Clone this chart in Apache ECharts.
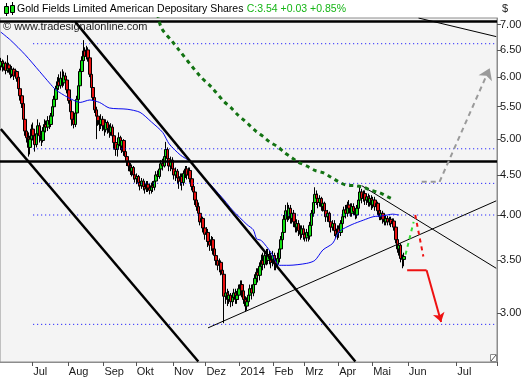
<!DOCTYPE html>
<html><head><meta charset="utf-8">
<script src="https://cdn.jsdelivr.net/npm/echarts@6/dist/echarts.min.js"></script>
<style>html,body{margin:0;padding:0;background:#fff}#c{width:532px;height:380px}</style>
</head><body><div id="c"></div>
<script>
// ---------- header text ----------
const titleText = 'Gold Fields Limited American Depositary Shares';
const quoteText = 'C:3.54 +0.03 +0.85%';
const copyrightText = '\u00a9 www.tradesignalonline.com';
const currencyText = '$';

// ---------- time axis ----------
const firstDate = '2013-06-03';
const lastCandleDate = '2014-05-29';
const lastAxisDate = '2014-07-25';
const holidays = ['2013-07-04','2013-09-02','2013-11-28','2013-12-25','2014-01-01','2014-01-20','2014-02-17','2014-04-18','2014-05-26'];
const monthLabels = ['YEAR','Feb','Mrz','Apr','Mai','Jun','Jul','Aug','Sep','Okt','Nov','Dez'];

// ---------- price axis ----------
const yMin = 2.596, yMax = 7.140;
const yTicks = [3.00, 3.50, 4.00, 4.50, 5.00, 5.50, 6.00, 6.50, 7.00];

// ---------- daily candles [open, close, low, high] ----------
const candles = [
// Jun 2013
[6.20,6.28,6.12,6.35],[6.28,6.18,6.10,6.32],[6.18,6.25,6.12,6.30],[6.25,6.12,6.05,6.28],[6.12,6.22,6.08,6.40],
[6.22,6.15,6.08,6.26],[6.15,6.05,5.98,6.18],[6.05,6.14,6.00,6.20],[6.14,6.02,5.95,6.17],[6.02,6.10,5.98,6.15],
[6.10,5.98,5.92,6.12],[6.00,5.80,5.75,6.05],[5.80,5.68,5.60,5.85],[5.68,5.55,5.48,5.72],[5.55,5.30,5.25,5.58],
[5.30,5.12,5.05,5.35],[5.12,5.02,4.95,5.18],[5.02,4.88,4.75,5.10],[4.88,5.00,4.78,5.05],[5.00,5.15,4.95,5.22],
// Jul
[5.15,5.05,4.98,5.25],[5.05,4.92,4.82,5.10],[4.92,5.08,4.88,5.15],[5.08,5.20,5.02,5.30],[5.20,5.05,4.95,5.25],
[5.05,4.98,4.90,5.12],[4.98,5.12,4.95,5.18],[5.12,5.22,5.05,5.30],[5.22,5.18,5.10,5.28],[5.18,5.28,5.12,5.35],
[5.28,5.22,5.15,5.36],[5.22,5.35,5.18,5.40],[5.35,5.50,5.30,5.55],[5.50,5.62,5.45,5.68],[5.62,5.80,5.58,5.85],
[5.80,5.92,5.72,6.00],[5.92,5.85,5.78,6.05],[5.85,5.98,5.80,6.10],[5.98,5.90,5.82,6.14],[5.90,6.02,5.85,6.10],
[6.02,5.95,5.85,6.08],[5.95,5.78,5.72,6.00],
// Aug
[5.78,5.60,5.55,5.82],[5.60,5.42,5.38,5.65],[5.42,5.30,5.20,5.48],[5.30,5.22,5.16,5.38],[5.22,5.40,5.18,5.45],
[5.40,5.62,5.35,5.68],[5.62,5.85,5.58,5.90],[5.85,6.10,5.80,6.15],[6.10,6.30,6.05,6.38],[6.30,6.48,6.25,6.69],
[6.48,6.38,6.30,6.55],[6.38,6.50,6.32,6.58],[6.50,6.35,6.28,6.55],[6.35,6.05,6.00,6.40],[6.05,5.82,5.75,6.10],
[5.82,5.65,5.60,5.88],[5.65,5.45,5.40,5.70],[5.45,5.35,5.00,5.50],[5.35,5.28,5.20,5.42],[5.28,5.22,5.12,5.35],
[5.22,5.30,5.15,5.38],[5.30,5.20,5.12,5.35],
// Sep
[5.20,5.14,5.05,5.28],[5.14,5.25,5.10,5.30],[5.25,5.16,5.08,5.28],[5.16,5.10,5.02,5.22],[5.10,5.18,5.05,5.24],
[5.18,5.05,4.98,5.22],[5.05,4.95,4.85,5.10],[4.95,4.85,4.76,5.00],[4.85,4.92,4.75,4.98],[4.92,5.02,4.88,5.10],
[5.02,4.90,4.84,5.05],[4.90,4.98,4.80,5.02],[4.98,4.82,4.76,5.00],[4.82,4.75,4.68,4.88],[4.75,4.68,4.62,4.80],
[4.68,4.62,4.55,4.72],[4.62,4.55,4.50,4.66],[4.55,4.60,4.48,4.64],[4.60,4.50,4.44,4.62],[4.50,4.45,4.40,4.55],
// Oct
[4.45,4.48,4.38,4.52],[4.48,4.40,4.35,4.50],[4.40,4.36,4.30,4.45],[4.36,4.42,4.32,4.46],[4.42,4.35,4.30,4.45],
[4.35,4.32,4.26,4.40],[4.32,4.38,4.28,4.42],[4.38,4.33,4.28,4.42],[4.33,4.30,4.25,4.38],[4.30,4.36,4.26,4.40],
[4.36,4.34,4.28,4.42],[4.34,4.42,4.30,4.46],[4.42,4.50,4.38,4.55],[4.50,4.48,4.42,4.56],[4.48,4.58,4.45,4.62],
[4.58,4.65,4.52,4.70],[4.65,4.62,4.56,4.72],[4.62,4.75,4.60,4.80],[4.75,4.85,4.70,4.96],[4.85,4.72,4.66,4.88],
[4.72,4.62,4.55,4.78],[4.62,4.70,4.55,4.75],[4.70,4.58,4.52,4.74],
// Nov
[4.58,4.50,4.44,4.62],[4.50,4.55,4.42,4.60],[4.55,4.46,4.38,4.58],[4.46,4.42,4.32,4.50],[4.42,4.48,4.36,4.52],
[4.48,4.40,4.30,4.52],[4.40,4.52,4.36,4.56],[4.52,4.58,4.46,4.62],[4.58,4.50,4.44,4.62],[4.50,4.56,4.45,4.60],
[4.56,4.45,4.40,4.60],[4.45,4.35,4.30,4.50],[4.35,4.28,4.22,4.40],[4.28,4.18,4.12,4.32],[4.18,4.10,4.05,4.22],
[4.10,4.02,3.96,4.15],[4.02,3.92,3.88,4.06],[3.92,3.96,3.85,4.00],[3.96,3.85,3.80,3.98],[3.85,3.78,3.72,3.90],
// Dec
[3.78,3.80,3.70,3.86],[3.80,3.70,3.64,3.84],[3.70,3.66,3.60,3.76],[3.66,3.72,3.60,3.76],[3.72,3.62,3.56,3.75],
[3.62,3.55,3.50,3.66],[3.55,3.50,3.45,3.60],[3.50,3.45,3.40,3.54],[3.45,3.48,3.38,3.52],[3.48,3.40,3.35,3.50],
[3.40,3.36,3.30,3.44],[3.36,3.15,2.91,3.38],[3.15,3.18,3.08,3.22],[3.18,3.12,3.06,3.22],[3.12,3.16,3.08,3.20],
[3.16,3.10,3.05,3.18],[3.10,3.14,3.06,3.18],[3.14,3.18,3.10,3.22],[3.18,3.12,3.08,3.22],[3.12,3.16,3.08,3.20],
[3.16,3.22,3.12,3.26],
// Jan 2014
[3.22,3.26,3.16,3.30],[3.26,3.20,3.14,3.30],[3.20,3.12,3.08,3.24],[3.12,3.06,3.01,3.15],[3.06,3.10,3.02,3.14],
[3.10,3.16,3.06,3.20],[3.16,3.22,3.12,3.26],[3.22,3.18,3.12,3.26],[3.18,3.26,3.15,3.30],[3.26,3.32,3.22,3.36],
[3.32,3.38,3.28,3.42],[3.38,3.35,3.28,3.42],[3.35,3.44,3.30,3.48],[3.44,3.50,3.40,3.56],[3.50,3.46,3.40,3.58],
[3.46,3.55,3.42,3.60],[3.55,3.50,3.45,3.62],[3.50,3.56,3.46,3.62],[3.56,3.52,3.46,3.60],[3.52,3.48,3.42,3.58],
[3.48,3.55,3.44,3.60],
// Feb
[3.55,3.50,3.40,3.58],[3.50,3.46,3.40,3.55],[3.46,3.52,3.42,3.58],[3.52,3.62,3.48,3.66],[3.62,3.72,3.58,3.76],
[3.72,3.80,3.68,3.85],[3.80,3.95,3.76,4.00],[3.95,4.05,3.90,4.12],[4.05,3.98,3.92,4.15],[3.98,4.08,3.94,4.12],
[4.08,3.96,3.90,4.12],[3.96,4.02,3.90,4.06],[4.02,3.92,3.86,4.06],[3.92,3.86,3.80,3.98],[3.86,3.90,3.80,3.95],
[3.90,3.82,3.76,3.94],[3.82,3.78,3.72,3.88],[3.78,3.84,3.74,3.88],[3.84,3.78,3.72,3.88],
// Mar
[3.78,3.74,3.70,3.84],[3.74,3.80,3.70,3.84],[3.80,3.76,3.70,3.84],[3.76,3.88,3.72,3.92],[3.88,4.02,3.84,4.06],
[4.02,4.15,3.98,4.20],[4.15,4.25,4.10,4.34],[4.25,4.20,4.12,4.30],[4.20,4.15,4.08,4.26],[4.15,4.20,4.10,4.24],
[4.20,4.10,4.05,4.22],[4.10,4.14,4.04,4.18],[4.14,4.05,4.00,4.16],[4.05,3.98,3.92,4.08],[3.98,4.02,3.92,4.06],
[4.02,3.92,3.86,4.04],[3.92,3.86,3.80,3.96],[3.86,3.90,3.82,3.94],[3.90,3.82,3.76,3.94],[3.82,3.78,3.74,3.88],
[3.78,3.84,3.72,3.88],
// Apr
[3.84,3.80,3.74,3.88],[3.80,3.90,3.76,3.94],[3.90,3.98,3.86,4.02],[3.98,4.06,3.94,4.10],[4.06,4.02,3.96,4.12],
[4.02,4.12,3.98,4.16],[4.12,4.08,4.02,4.18],[4.08,4.02,3.98,4.14],[4.02,4.10,3.98,4.14],[4.10,4.04,4.00,4.14],
[4.04,4.00,3.95,4.08],[4.00,4.08,3.96,4.12],[4.08,4.18,4.04,4.22],[4.18,4.28,4.14,4.36],[4.28,4.20,4.14,4.32],
[4.20,4.26,4.16,4.30],[4.26,4.18,4.12,4.30],[4.18,4.22,4.12,4.26],[4.22,4.15,4.10,4.26],[4.15,4.20,4.10,4.24],
[4.20,4.12,4.06,4.24],
// May
[4.12,4.18,4.08,4.22],[4.18,4.10,4.05,4.22],[4.10,4.14,4.06,4.18],[4.14,4.05,4.00,4.16],[4.05,3.98,3.94,4.08],
[3.98,4.02,3.94,4.06],[4.02,3.95,3.90,4.05],[3.95,3.92,3.88,4.00],[3.92,3.96,3.88,4.00],[3.96,3.92,3.88,3.99],
[3.92,3.95,3.88,3.98],[3.95,3.90,3.86,3.98],[3.90,3.93,3.86,3.96],[3.93,3.86,3.82,3.96],[3.86,3.72,3.68,3.88],
[3.72,3.62,3.58,3.75],[3.62,3.66,3.55,3.72],[3.66,3.52,3.48,3.68],[3.52,3.51,3.42,3.56],[3.51,3.54,3.44,3.58]
];

// ---------- blue moving average [date, value] ----------
const maPoints = [
['2013-06-03',6.85],['2013-06-11',6.69],['2013-06-24',6.41],['2013-07-08',6.10],['2013-07-16',5.90],
['2013-07-22',5.78],['2013-07-31',5.66],['2013-08-12',5.57],['2013-08-20',5.61],['2013-08-28',5.57],
['2013-09-06',5.48],['2013-09-23',5.46],['2013-10-03',5.41],['2013-10-14',5.26],['2013-10-23',5.10],
['2013-10-29',4.93],['2013-11-07',4.77],['2013-11-15',4.68],['2013-11-25',4.52],['2013-12-06',4.34],
['2013-12-17',4.18],['2013-12-24',4.06],['2014-01-08',3.89],['2014-01-14',3.83],['2014-01-16',3.73],
['2014-01-22',3.71],['2014-01-30',3.58],['2014-02-06',3.45],['2014-02-14',3.45],['2014-03-04',3.47],
['2014-03-11',3.50],['2014-03-18',3.61],['2014-03-26',3.68],['2014-04-01',3.81],['2014-04-11',3.89],
['2014-04-23',3.94],['2014-05-01',3.98],['2014-05-09',3.99],['2014-05-19',4.01],['2014-05-23',4.00]
];

// ---------- green dotted resistance curve [date, value] ----------
const greenCurve = [
['2013-10-17',7.40],['2013-10-22',6.95],['2013-10-31',6.66],['2013-11-05',6.54],['2013-11-25',6.02],
['2013-12-05',5.83],['2013-12-17',5.58],['2013-12-23',5.49],['2013-12-30',5.38],['2014-01-06',5.29],
['2014-01-10',5.20],['2014-01-16',5.11],['2014-01-23',5.04],['2014-01-29',4.96],['2014-02-05',4.89],
['2014-02-11',4.81],['2014-02-19',4.73],['2014-02-25',4.67],['2014-03-04',4.62],['2014-03-11',4.56],
['2014-03-18',4.53],['2014-03-25',4.47],['2014-03-31',4.42],['2014-04-07',4.37],['2014-04-15',4.36],
['2014-04-23',4.34],['2014-04-30',4.30],['2014-05-07',4.27],['2014-05-14',4.22],['2014-05-20',4.18]
];

// ---------- horizontal levels ----------
const solidLevels = [7.08, 4.68];
const dottedLevels = [6.62, 4.86, 4.39, 4.00, 2.90];
const dottedStart = '2013-07-01';

// ---------- trend lines [date, value] ----------
const channelUpper = [['2013-08-07',7.06],['2014-04-15',2.60]];
const channelLower = [['2013-06-03',5.15],['2013-11-22',2.60]];
const supportLine  = [['2013-12-03',2.87],['2014-07-25',4.17]];
const resistLine   = [['2014-04-22',4.36],['2014-07-25',3.42]];
const topLine      = [['2014-06-07',7.14],['2014-07-25',6.76]];

// ---------- scenario annotations [date, value] ----------
const bearDashed = [['2014-06-05',4.00],['2014-06-10',3.54]];
const bearArrow  = [['2014-05-31',3.40],['2014-06-12',3.40],['2014-06-21',2.92]];
const bullDashed = [['2014-05-30',3.56],['2014-06-04',3.92]];
const bullArrow  = [['2014-06-09',4.41],['2014-06-20',4.41],['2014-07-21',6.16]];

// ---------- build date categories ----------
function fmt(d){return d.toISOString().slice(0,10);}
const dates = [];
(function(){
  let d = new Date(firstDate+'T00:00:00Z');
  const endC = new Date(lastCandleDate+'T00:00:00Z');
  const endA = new Date(lastAxisDate+'T00:00:00Z');
  while (d <= endC) {
    const wd = d.getUTCDay(), s = fmt(d);
    if (wd !== 0 && wd !== 6 && holidays.indexOf(s) < 0) dates.push(s);
    d = new Date(d.getTime()+86400000);
  }
  while (d <= endA) { dates.push(fmt(d)); d = new Date(d.getTime()+86400000); }
})();

function isMonthStart(i){
  if (i <= 0) return false;
  return dates[i].slice(0,7) !== dates[i-1].slice(0,7);
}
function monthLabel(v){
  const m = parseInt(v.slice(5,7),10);
  return m === 1 ? v.slice(0,4) : monthLabels[m-1];
}
function toIdx(pts){ return pts.map(p => [dates.indexOf(p[0]), p[1]]); }
function headPart(pts){ return toIdx(pts.slice(0, pts.length-1)); }
function tailPart(pts){ return toIdx(pts.slice(pts.length-2)); }

const lastIdx = dates.length - 1;
const FONT = '"Liberation Sans", Arial, sans-serif';

const chart = echarts.init(document.getElementById('c'), null, {renderer:'canvas', width:532, height:380});

const option = {
  animation: false,
  backgroundColor: '#ffffff',
  textStyle: {fontFamily: FONT},
  grid: {left: 0, right: 35, top: 18, bottom: 18, show: true, backgroundColor: '#f4f4f4', borderColor: '#8c8c8c', borderWidth: 1},
  xAxis: {
    type: 'category', data: dates, boundaryGap: true,
    axisLine: {show: true, lineStyle: {color: '#8c8c8c'}},
    axisTick: {show: true, interval: (i) => isMonthStart(i), length: 4, lineStyle: {color: '#555'}},
    axisLabel: {interval: (i) => isMonthStart(i), formatter: monthLabel, align: 'left', margin: 4, color: '#1a1a1a', fontSize: 11, fontFamily: FONT},
    splitLine: {show: false}
  },
  yAxis: {
    type: 'log', logBase: 10, position: 'right', min: yMin, max: yMax,
    axisLine: {show: true, lineStyle: {color: '#8c8c8c'}},
    axisTick: {show: true, length: 4, customValues: yTicks, lineStyle: {color: '#555'}},
    axisLabel: {customValues: yTicks, formatter: (v) => Number(v).toFixed(2), margin: 3, color: '#1a1a1a', fontSize: 11, fontFamily: FONT},
    splitLine: {show: false}, minorTick: {show: false}
  },
  graphic: [
    {type: 'rect', shape: {x: 0, y: 0, width: 532, height: 17}, style: {fill: '#ffffff'}, z: 100},
    {type: 'line', shape: {x1: 6.5, y1: 3, x2: 6.5, y2: 16}, style: {stroke: '#000', lineWidth: 1}, z: 101},
    {type: 'rect', shape: {x: 4.5, y: 6.5, width: 4, height: 7}, style: {fill: '#11e011', stroke: '#000', lineWidth: 1}, z: 102},
    {type: 'line', shape: {x1: 12.5, y1: 2, x2: 12.5, y2: 15}, style: {stroke: '#000', lineWidth: 1}, z: 101},
    {type: 'rect', shape: {x: 10.5, y: 5.5, width: 4, height: 7}, style: {fill: '#11e011', stroke: '#000', lineWidth: 1}, z: 102},
    {type: 'text', x: 17, y: 3, z: 102, style: {
      text: '{a|' + titleText + '} {b|' + quoteText + '}',
      rich: {a: {fill: '#000', fontSize: 10.5, fontFamily: FONT}, b: {fill: '#16b516', fontSize: 10.5, fontFamily: FONT}}
    }},
    {type: 'text', x: 3, y: 21, z: 102, style: {text: copyrightText, fill: '#1a1a1a', fontSize: 11, fontFamily: FONT}},
    {type: 'text', x: 502, y: 3, z: 102, style: {text: currencyText, fill: '#1a1a1a', fontSize: 11, fontFamily: FONT}},
    {type: 'rect', shape: {x: 490.5, y: 354.5, width: 6, height: 7}, style: {fill: '#ffffff', stroke: '#8c8c8c', lineWidth: 1}, z: 102},
    {type: 'line', shape: {x1: 491, y1: 361, x2: 496, y2: 355}, style: {stroke: '#555', lineWidth: 1}, z: 103}
  ],
  series: [
    {
      name: 'GFI', type: 'candlestick', data: candles, barWidth: 3,
      itemStyle: {color: '#11e011', color0: '#e81010', borderColor: '#000', borderColor0: '#000', borderWidth: 1},
      markLine: {
        silent: true, symbol: 'none', label: {show: false},
        lineStyle: {color: '#000', width: 2.5, type: 'solid'},
        data: solidLevels.map(v => ({yAxis: v}))
      },
      z: 2
    },
    {
      name: 'levels', type: 'lines', coordinateSystem: 'cartesian2d', polyline: true, clip: true, silent: true,
      lineStyle: {color: '#0000ff', width: 1, type: [1, 3], opacity: 1},
      data: dottedLevels.map(v => ({coords: [[dates.indexOf(dottedStart), v], [lastIdx, v]]})),
      z: 3
    },
    {
      name: 'MA', type: 'line', data: maPoints, showSymbol: false, smooth: 0.25, silent: true,
      lineStyle: {color: '#0a0aee', width: 1}, z: 4
    },
    {
      name: 'channel', type: 'lines', coordinateSystem: 'cartesian2d', polyline: true, clip: true, silent: true,
      lineStyle: {color: '#000', width: 2.5, opacity: 1},
      data: [{coords: toIdx(channelUpper)}, {coords: toIdx(channelLower)}], z: 5
    },
    {
      name: 'thin', type: 'lines', coordinateSystem: 'cartesian2d', polyline: true, clip: true, silent: true,
      lineStyle: {color: '#000', width: 1, opacity: 1},
      data: [{coords: toIdx(supportLine)}, {coords: toIdx(resistLine)}, {coords: toIdx(topLine)}], z: 5
    },
    {
      name: 'curve', type: 'line', data: greenCurve, showSymbol: false, smooth: 0.3, silent: true,
      lineStyle: {color: '#137313', width: 3, type: [4, 4]}, z: 6
    },
    {
      name: 'bearDash', type: 'lines', coordinateSystem: 'cartesian2d', polyline: true, clip: true, silent: true,
      lineStyle: {color: '#ee1111', width: 2, type: [4, 4], opacity: 1},
      data: [{coords: toIdx(bearDashed)}], z: 7
    },
    {
      name: 'bearArrowBase', type: 'lines', coordinateSystem: 'cartesian2d', polyline: true, clip: true, silent: true,
      lineStyle: {color: '#ee1111', width: 2, opacity: 1},
      data: [{coords: headPart(bearArrow)}], z: 7
    },
    {
      name: 'bearArrowHead', type: 'lines', coordinateSystem: 'cartesian2d', clip: true, silent: true,
      symbol: ['none', 'arrow'], symbolSize: 9,
      lineStyle: {color: '#ee1111', width: 2, opacity: 1},
      data: [{coords: tailPart(bearArrow)}], z: 7
    },
    {
      name: 'bullDash', type: 'lines', coordinateSystem: 'cartesian2d', polyline: true, clip: true, silent: true,
      lineStyle: {color: '#33dd33', width: 2, type: [4, 4], opacity: 1},
      data: [{coords: toIdx(bullDashed)}], z: 7
    },
    {
      name: 'bullArrowBase', type: 'lines', coordinateSystem: 'cartesian2d', polyline: true, clip: true, silent: true,
      lineStyle: {color: '#9a9a9a', width: 2, type: [5, 4], opacity: 1},
      data: [{coords: headPart(bullArrow)}], z: 7
    },
    {
      name: 'bullArrowHead', type: 'lines', coordinateSystem: 'cartesian2d', clip: true, silent: true,
      symbol: ['none', 'arrow'], symbolSize: 11,
      itemStyle: {color: '#9a9a9a'},
      lineStyle: {color: '#9a9a9a', width: 2, type: [5, 4], opacity: 1},
      data: [{coords: tailPart(bullArrow)}], z: 7
    }
  ]
};
chart.setOption(option);
</script>
</body></html>
